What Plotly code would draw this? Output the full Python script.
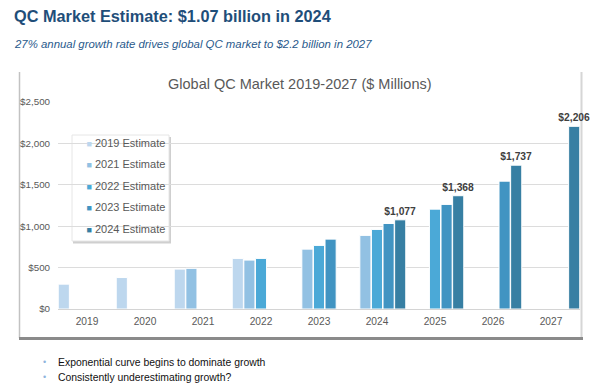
import plotly.graph_objects as go

# ---------------- data ----------------
years = ["2019", "2020", "2021", "2022", "2023", "2024", "2025", "2026", "2027"]
est_2019 = [300, 380, 482, 611, None, None, None, None, None]
est_2021 = [None, None, 491, 591, 723, 889, None, None, None]
est_2022 = [None, None, None, 611, 768, 961, 1206, None, None]
est_2023 = [None, None, None, None, 844, 1033, 1263, 1544, None]
est_2024 = [None, None, None, None, None, 1077, 1368, 1737, 2206]
series_names = ["2019 Estimate", "2021 Estimate", "2022 Estimate", "2023 Estimate", "2024 Estimate"]
series_values = [est_2019, est_2021, est_2022, est_2023, est_2024]
colors = ["#bdd7ee", "#92c1e3", "#4ba9d7", "#4194c2", "#377fa3"]
y_ticks = [0, 500, 1000, 1500, 2000, 2500]
y_tick_labels = ["$0", "$500", "$1,000", "$1,500", "$2,000", "$2,500"]

page_title = "QC Market Estimate: $1.07 billion in 2024"
page_subtitle = "27% annual growth rate drives global QC market to $2.2 billion in 2027"
chart_title = "Global QC Market 2019-2027 ($ Millions)"
bullets = ["Exponential curve begins to dominate growth", "Consistently underestimating growth?"]

FONT = "Liberation Sans, Arial, Helvetica, sans-serif"
W, H = 600, 389
ML, MR, MT, MB = 58, 20, 102, 80
PW, PH = W - ML - MR, H - MT - MB


def px(x):
    return (x - ML) / PW


def py(y):
    return (H - MB - y) / PH


fig = go.Figure()

# bars
for name, vals, col in zip(series_names, series_values, colors):
    is_label = name == "2024 Estimate"
    texts = [("$" + format(v, ",")) if (is_label and v is not None) else "" for v in vals]
    fig.add_trace(go.Bar(
        x=years, y=vals, name=name, marker=dict(color=col, line=dict(color="white", width=1)),
        text=texts, textposition="outside", cliponaxis=False, constraintext="none",
        textfont=dict(family=FONT, size=10.3, color="#404040", weight="bold"),
        showlegend=False,
    ))

# legend entries (small square swatches)
for i, (name, col) in enumerate(zip(series_names, colors)):
    fig.add_trace(go.Scatter(
        x=[None], y=[None], mode="markers",
        marker=dict(size=1, color="rgba(0,0,0,0)"),
        name="<span style='color:%s;font-size:9px'>■</span> %s" % (col, name),
        legendgroup="g%d" % i, showlegend=True,
    ))

shapes = []
# chart panel
shapes.append(dict(type="rect", xref="paper", yref="paper", x0=px(19), x1=px(582), y0=py(338), y1=py(66),
                   fillcolor="white", line=dict(width=0), layer="below"))
shapes.append(dict(type="line", xref="paper", yref="paper", x0=px(19.5), x1=px(19.5), y0=py(338), y1=py(72),
                   line=dict(color="#c2c2c2", width=1.5), layer="below"))
shapes.append(dict(type="line", xref="paper", yref="paper", x0=px(581.5), x1=px(581.5), y0=py(338), y1=py(72),
                   line=dict(color="#d6d6d6", width=2), layer="below"))
shapes.append(dict(type="line", xref="paper", yref="paper", x0=px(19), x1=px(583), y0=py(338.5), y1=py(338.5),
                   line=dict(color="#8a8a8a", width=3), layer="below"))
# legend box with shadow
shapes.append(dict(type="rect", xref="paper", yref="paper", x0=px(73), x1=px(171), y0=py(243.5), y1=py(137),
                   fillcolor="#cfcfcf", line=dict(width=0), layer="between"))
shapes.append(dict(type="rect", xref="paper", yref="paper", x0=px(72), x1=px(169), y0=py(241), y1=py(135),
                   fillcolor="white", line=dict(color="#e6e6e6", width=1), layer="between"))

annotations = [
    dict(text="<b>" + page_title + "</b>", x=px(12), y=py(16), xref="paper", yref="paper",
         xanchor="left", yanchor="middle", showarrow=False,
         font=dict(family=FONT, size=16.3, color="#1f4e79")),
    dict(text="<i>" + page_subtitle + "</i>", x=px(12), y=py(44), xref="paper", yref="paper",
         xanchor="left", yanchor="middle", showarrow=False,
         font=dict(family=FONT, size=11.4, color="#2a5a8c")),
    dict(text=chart_title, x=px(300), y=py(84), xref="paper", yref="paper",
         xanchor="center", yanchor="middle", showarrow=False,
         font=dict(family=FONT, size=14.5, color="#595959")),
]
for i, b in enumerate(bullets):
    yy = 362 + 15 * i
    annotations.append(dict(text="•", x=px(44), y=py(yy), xref="paper", yref="paper",
                            xanchor="center", yanchor="middle", showarrow=False,
                            font=dict(family=FONT, size=9, color="#8fb4dd")))
    annotations.append(dict(text=b, x=px(56), y=py(yy), xref="paper", yref="paper",
                            xanchor="left", yanchor="middle", showarrow=False,
                            font=dict(family=FONT, size=10.4, color="#111111")))

fig.update_layout(
    width=W, height=H,
    margin=dict(l=ML, r=MR, t=MT, b=MB, pad=0),
    paper_bgcolor="white", plot_bgcolor="rgba(0,0,0,0)",
    barmode="group", bargap=0, bargroupgap=0.04,
    font=dict(family=FONT, size=11, color="#595959"),
    shapes=shapes, annotations=annotations,
    legend=dict(x=px(46.5), y=py(128), xanchor="left", yanchor="top",
                bgcolor="rgba(0,0,0,0)", borderwidth=0, tracegroupgap=2.5,
                traceorder="grouped", font=dict(family=FONT, size=11, color="#595959"),
                itemclick=False, itemdoubleclick=False),
    xaxis=dict(type="category", categoryorder="array", categoryarray=years,
               showgrid=False, showline=False, zeroline=False,
               ticks="outside", ticklen=3, tickcolor="rgba(0,0,0,0)",
               tickfont=dict(family=FONT, size=10.2, color="#595959")),
    yaxis=dict(range=[0, 2500], tickmode="array", tickvals=y_ticks, ticktext=y_tick_labels,
               showgrid=True, gridcolor="#dcdcdc", gridwidth=1,
               zeroline=True, zerolinecolor="#d4d4d4", zerolinewidth=1, showline=False,
               ticks="outside", ticklen=5, tickcolor="rgba(0,0,0,0)",
               tickfont=dict(family=FONT, size=9.8, color="#595959")),
)

fig.write_html("out.html", config={"displayModeBar": False},
               post_script="document.body.style.margin='0';")
